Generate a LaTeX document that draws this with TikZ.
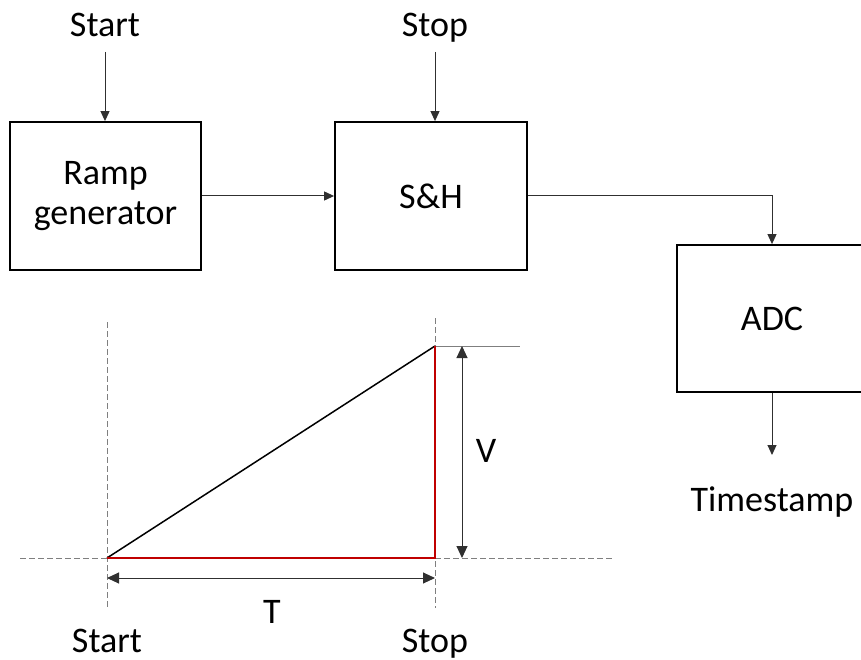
\documentclass[tikz,border=0pt]{standalone}
\usepackage{fontspec}
\setmainfont{Carlito}
\usetikzlibrary{arrows.meta}
\definecolor{redline}{HTML}{C00000}
\definecolor{dashgray}{HTML}{7F7F7F}
\definecolor{arrgray}{HTML}{303030}
\begin{document}
\begin{tikzpicture}[x=1pt,y=-1pt,
  every node/.style={font=\fontsize{36}{40}\selectfont},
  blockbox/.style={draw=black,line width=1.8pt,minimum width=#1,minimum height=148pt,inner sep=0pt,align=center},
  lbl/.style={inner sep=0pt,anchor=base},
  arr/.style={draw=arrgray,line width=1pt,-{Triangle[length=10pt,width=9pt]}},
  darr/.style={draw=arrgray,line width=1pt,{Triangle[length=12pt,width=11pt]}-{Triangle[length=12pt,width=11pt]}},
  guide/.style={draw=dashgray,line width=1pt,dash pattern=on 6pt off 3pt},
  ramp/.style={draw=black,line width=1.5pt},
  redl/.style={draw=redline,line width=2pt}]
\clip (0,0) rectangle (861,660);
\useasboundingbox (0,0) rectangle (861,660);
% blocks
\node[blockbox=191pt] (rg) at (105.5,196) {Ramp\\generator};
\node[blockbox=192pt] (sh) at (431,196) {S\&H};
\node[blockbox=190pt,minimum height=147pt] (adc) at (772,318.5) {ADC};
% labels
\node[lbl] (startlbl) at (105,37) {Start};
\node[lbl] (stoplbl) at (435,37) {Stop};
\node[lbl] (tslbl) at (772,511) {Timestamp};
\coordinate (startsrc) at (105,52);
\coordinate (stopsrc) at (435,52);
\coordinate (tsend) at (772,455);
% connectors
\draw[arr] (startsrc) -- (rg.north -| startsrc);
\draw[arr] (stopsrc) -- (sh.north -| stopsrc);
\draw[arr] (rg.east) -- (sh.west);
\draw[arr] (sh.east) -| (adc.north);
\draw[arr] (adc.south) -- (tsend);
% graph
\coordinate (O) at (107,558);
\coordinate (P) at (435,346);
\coordinate (Q) at (435,558);
\coordinate (sttop) at (107,322);
\coordinate (stbot) at (107,608);
\coordinate (sptop) at (435,318);
\coordinate (spbot) at (435,608);
\coordinate (bl) at (20,558);
\coordinate (br) at (612,558);
\coordinate (topr) at (520,346);
\draw[guide] (sttop) -- (stbot);
\draw[guide] (sptop) -- (spbot);
\draw[guide] (bl) -- (O);
\draw[guide] (Q) -- (br);
\draw[draw=dashgray,line width=1pt] (P) -- (topr);
\draw[ramp] (O) -- (P);
\draw[redl] (O) -- (Q) -- (P);
\coordinate (va) at (462,346);
\coordinate (vb) at (462,558);
\draw[darr] (va) -- (vb);
\coordinate (ta) at (107,578);
\coordinate (tb) at (435,578);
\draw[darr] (ta) -- (tb);
\node[lbl] (vlbl) at (486,462) {V};
\node[lbl] (tlbl) at (272,623) {T};
\node[lbl] (startb) at (107,652) {Start};
\node[lbl] (stopb) at (435,652) {Stop};
\end{tikzpicture}
\end{document}
